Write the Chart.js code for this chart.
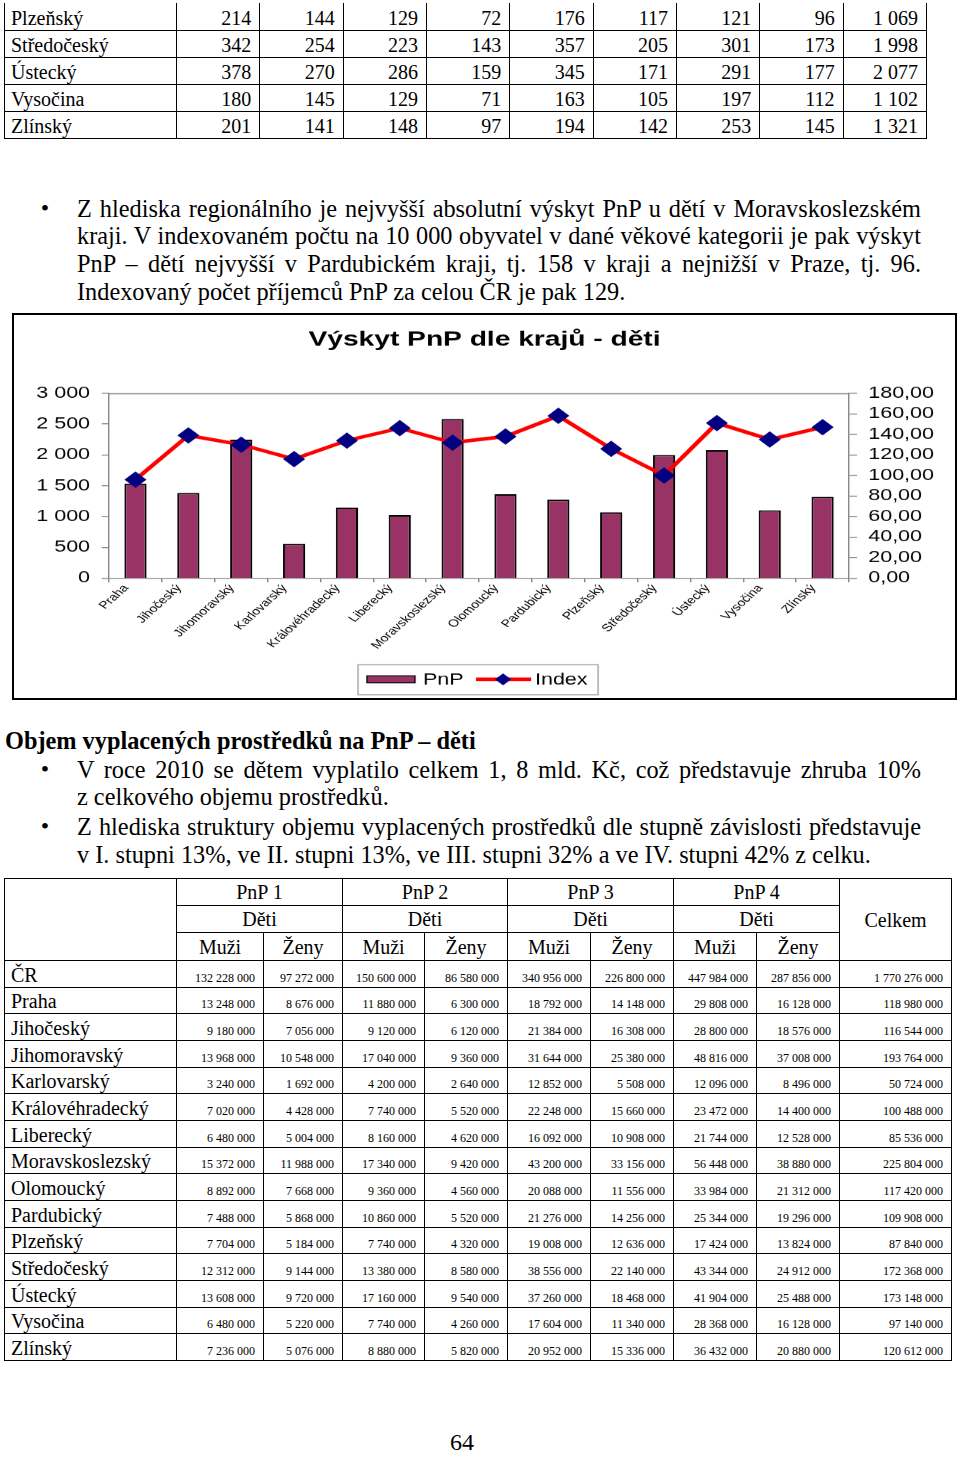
<!DOCTYPE html>
<html lang="cs">
<head>
<meta charset="utf-8">
<title>Výskyt PnP dle krajů - děti</title>
<script src="https://cdn.jsdelivr.net/npm/chart.js@4.4.1/dist/chart.umd.min.js"></script>
<style>
  body { margin: 0; width: 960px; height: 1461px; position: relative; background: #fff; color: #000;
         font-family: 'Liberation Serif', 'Times New Roman', serif; overflow: hidden; }
  .abs { position: absolute; }
  table { border-collapse: collapse; table-layout: fixed; }
  td { font-family: 'Liberation Serif', 'Times New Roman', serif; }
  #t1 tr { height: 27px; }
  #t1 td { border: 1px solid #000; font-size: 20px; line-height: 20px; padding: 0 0 2px 0;
           vertical-align: bottom; white-space: nowrap; }
  #t1 tr:first-child td { border-top: none; }
  #t1 td.name { padding-left: 6px; }
  #t1 td.num { text-align: right; padding-right: 8px; }
  #t2 td { border: 1px solid #000; white-space: nowrap; padding: 0; }
  #t2 td.hd { font-size: 20px; line-height: 20px; text-align: center; vertical-align: middle; }
  #t2 td.name { font-size: 20px; line-height: 20px; padding: 0 0 2px 6px; vertical-align: bottom; }
  #t2 td.num { font-size: 12px; line-height: 12px; padding: 0 8px 3px 0; text-align: right; vertical-align: bottom; }
  .para { left: 77px; width: 844px; font-size: 24.3px; }
  .para div { height: 27.6px; line-height: 27.6px; white-space: nowrap; text-align: justify; text-align-last: justify; }
  .para div.last { text-align-last: left; }
  .bul { left: 40.8px; font-size: 24px; line-height: 27.6px; }
  #h2 { left: 5px; top: 727.4px; font-size: 24.3px; line-height: 27.6px; font-weight: bold; white-space: nowrap; }
  #chartBox { left: 12px; top: 313px; width: 945px; height: 387px; border: 2px solid #000; box-sizing: border-box; overflow: hidden; }
  #wrap { position: absolute; left: 0; top: 0; width: 702px; height: 383px; transform: scaleX(1.3405); transform-origin: 0 0; }
  #pg { left: 440px; width: 44px; top: 1429px; font-size: 24px; line-height: 27.6px; text-align: center; }
</style>
</head>
<body>

<table id="t1" class="abs" style="left:4px; top:3px; width:922px;"></table>

<div class="abs bul" style="top:194.8px">•</div>
<div class="abs para" style="top:194.8px">
  <div>Z hlediska regionálního je nejvyšší absolutní výskyt PnP u dětí v Moravskoslezském</div>
  <div>kraji. V indexovaném počtu na 10 000 obyvatel v dané věkové kategorii je pak výskyt</div>
  <div>PnP – dětí nejvyšší v Pardubickém kraji, tj. 158 v kraji a nejnižší v Praze, tj. 96.</div>
  <div class="last">Indexovaný počet příjemců PnP za celou ČR je pak 129.</div>
</div>

<div id="chartBox" class="abs"><div id="wrap"><canvas id="pnpChart"></canvas></div></div>

<div id="h2" class="abs">Objem vyplacených prostředků na PnP – děti</div>
<div class="abs bul" style="top:755.8px">•</div>
<div class="abs para" style="top:755.8px">
  <div>V roce 2010 se dětem vyplatilo celkem 1, 8 mld. Kč, což představuje zhruba 10%</div>
  <div class="last">z celkového objemu prostředků.</div>
</div>
<div class="abs bul" style="top:813.1px">•</div>
<div class="abs para" style="top:813.1px">
  <div>Z hlediska struktury objemu vyplacených prostředků dle stupně závislosti představuje</div>
  <div class="last">v I. stupni 13%, ve II. stupni 13%, ve III. stupni 32% a ve IV. stupni 42% z celku.</div>
</div>

<table id="t2" class="abs" style="left:4px; top:878px; width:947px;"></table>

<div id="pg" class="abs">64</div>

<script>
// chart data
const regions = ['Praha', 'Jihočeský', 'Jihomoravský', 'Karlovarský', 'Královéhradecký', 'Liberecký',
  'Moravskoslezský', 'Olomoucký', 'Pardubický', 'Plzeňský', 'Středočeský', 'Ústecký', 'Vysočina', 'Zlínský'];
const pnpCounts = [1535, 1383, 2246, 559, 1145, 1025, 2582, 1362, 1275, 1069, 1998, 2077, 1102, 1321];
const indexValues = [96, 139, 130, 116, 134, 146, 132, 138, 158, 126, 100, 151, 135, 147];
const leftTicks = { min: 0, max: 3000, step: 500 };
const rightTicks = { min: 0, max: 180, step: 20 };

// table on top of the page (age groups)
const ageRegions = ['Plzeňský', 'Středočeský', 'Ústecký', 'Vysočina', 'Zlínský'];
const ageRows = [
  [214, 144, 129, 72, 176, 117, 121, 96, 1069],
  [342, 254, 223, 143, 357, 205, 301, 173, 1998],
  [378, 270, 286, 159, 345, 171, 291, 177, 2077],
  [180, 145, 129, 71, 163, 105, 197, 112, 1102],
  [201, 141, 148, 97, 194, 142, 253, 145, 1321]
];

// payments table
const payGroups = ['PnP 1', 'PnP 2', 'PnP 3', 'PnP 4'];
const payRegions = ['ČR', 'Praha', 'Jihočeský', 'Jihomoravský', 'Karlovarský', 'Královéhradecký', 'Liberecký',
  'Moravskoslezský', 'Olomoucký', 'Pardubický', 'Plzeňský', 'Středočeský', 'Ústecký', 'Vysočina', 'Zlínský'];
const payRows = [
  [132228000, 97272000, 150600000, 86580000, 340956000, 226800000, 447984000, 287856000, 1770276000],
  [13248000, 8676000, 11880000, 6300000, 18792000, 14148000, 29808000, 16128000, 118980000],
  [9180000, 7056000, 9120000, 6120000, 21384000, 16308000, 28800000, 18576000, 116544000],
  [13968000, 10548000, 17040000, 9360000, 31644000, 25380000, 48816000, 37008000, 193764000],
  [3240000, 1692000, 4200000, 2640000, 12852000, 5508000, 12096000, 8496000, 50724000],
  [7020000, 4428000, 7740000, 5520000, 22248000, 15660000, 23472000, 14400000, 100488000],
  [6480000, 5004000, 8160000, 4620000, 16092000, 10908000, 21744000, 12528000, 85536000],
  [15372000, 11988000, 17340000, 9420000, 43200000, 33156000, 56448000, 38880000, 225804000],
  [8892000, 7668000, 9360000, 4560000, 20088000, 11556000, 33984000, 21312000, 117420000],
  [7488000, 5868000, 10860000, 5520000, 21276000, 14256000, 25344000, 19296000, 109908000],
  [7704000, 5184000, 7740000, 4320000, 19008000, 12636000, 17424000, 13824000, 87840000],
  [12312000, 9144000, 13380000, 8580000, 38556000, 22140000, 43344000, 24912000, 172368000],
  [13608000, 9720000, 17160000, 9540000, 37260000, 18468000, 41904000, 25488000, 173148000],
  [6480000, 5220000, 7740000, 4260000, 17604000, 11340000, 28368000, 16128000, 97140000],
  [7236000, 5076000, 8880000, 5820000, 20952000, 15336000, 36432000, 20880000, 120612000]
];

const fmt = n => String(n).replace(/\B(?=(\d{3})+(?!\d))/g, '\u00a0');

// build tables
let h = '<colgroup><col style="width:172px">' + '<col style="width:83.33px">'.repeat(9) + '</colgroup>';
ageRows.forEach((r, i) => {
  h += '<tr><td class="name">' + ageRegions[i] + '</td>' + r.map(v => '<td class="num">' + fmt(v) + '</td>').join('') + '</tr>';
});
document.getElementById('t1').innerHTML = h;

const w2 = [172, 87, 79, 82, 83, 83, 83, 83, 83, 112];
h = '<colgroup>' + w2.map(w => '<col style="width:' + w + 'px">').join('') + '</colgroup>';
h += '<tr style="height:27px"><td rowspan="3"></td>' + payGroups.map(g => '<td class="hd" colspan="2">' + g + '</td>').join('') +
     '<td class="hd" rowspan="3">Celkem</td></tr>';
h += '<tr style="height:27px">' + payGroups.map(() => '<td class="hd" colspan="2">Děti</td>').join('') + '</tr>';
h += '<tr style="height:28px">' + payGroups.map(() => '<td class="hd">Muži</td><td class="hd">Ženy</td>').join('') + '</tr>';
payRows.forEach((r, i) => {
  h += '<tr style="height:26.67px"><td class="name">' + payRegions[i] + '</td>' + r.map(v => '<td class="num">' + fmt(v) + '</td>').join('') + '</tr>';
});
document.getElementById('t2').innerHTML = h;

// chart
Chart.defaults.font.family = "'Liberation Sans', Arial, sans-serif";
Chart.defaults.color = '#000';

const frameAndLegend = {
  id: 'frameAndLegend',
  beforeDatasetsDraw(c) {
    const { ctx, chartArea: a } = c;
    ctx.save();
    ctx.strokeStyle = '#808080';
    ctx.lineWidth = 1;
    ctx.beginPath();
    ctx.moveTo(a.left, a.top + 0.5);
    ctx.lineTo(a.right, a.top + 0.5);
    ctx.stroke();
    ctx.restore();
  },
  afterDraw(c) {
    const ctx = c.ctx;
    const line = c.data.datasets[0], bar = c.data.datasets[1];
    const x0 = 256.6, y0 = 349, cy = 364;
    ctx.save();
    ctx.strokeStyle = '#a0a0a0';
    ctx.lineWidth = 1;
    ctx.strokeRect(x0, y0 + 0.5, 179.1, 30);
    ctx.fillStyle = bar.backgroundColor;
    ctx.fillRect(x0 + 6.7, cy - 3.5, 35.8, 7);
    ctx.strokeStyle = '#000';
    ctx.strokeRect(x0 + 6.7, cy - 3.5, 35.8, 7);
    ctx.fillStyle = '#000';
    ctx.font = "16px 'Liberation Sans', Arial, sans-serif";
    ctx.textBaseline = 'middle';
    ctx.fillText(bar.label, x0 + 48.5, cy + 1);
    ctx.strokeStyle = line.borderColor;
    ctx.lineWidth = 3.5;
    ctx.beginPath();
    ctx.moveTo(x0 + 88, cy);
    ctx.lineTo(x0 + 129.1, cy);
    ctx.stroke();
    const dx = x0 + 108.2, r = 6;
    ctx.fillStyle = line.pointBackgroundColor;
    ctx.beginPath();
    ctx.moveTo(dx - r, cy); ctx.lineTo(dx, cy - r); ctx.lineTo(dx + r, cy); ctx.lineTo(dx, cy + r);
    ctx.closePath();
    ctx.fill();
    ctx.fillStyle = '#000';
    ctx.fillText(line.label, x0 + 132.1, cy + 1);
    ctx.restore();
  }
};

new Chart(document.getElementById('pnpChart'), {
  data: {
    labels: regions,
    datasets: [
      {
        type: 'line', label: 'Index', data: indexValues, yAxisID: 'y1', order: 0,
        borderColor: '#ff0000', borderWidth: 3.5, tension: 0,
        pointStyle: 'rectRot', pointRadius: 7.5, pointBackgroundColor: '#000080', pointBorderColor: '#000080', pointBorderWidth: 1
      },
      {
        type: 'bar', label: 'PnP', data: pnpCounts, yAxisID: 'y', order: 1,
        backgroundColor: '#993366', borderColor: '#000', borderWidth: 1.5,
        barPercentage: 0.42, categoryPercentage: 1
      }
    ]
  },
  options: {
    responsive: true,
    maintainAspectRatio: false,
    animation: false,
    devicePixelRatio: 1.3405,
    layout: { padding: 0 },
    plugins: {
      legend: { display: false },
      tooltip: { enabled: false },
      title: {
        display: true, text: 'Výskyt PnP dle krajů - děti', color: '#000',
        font: { size: 21, weight: 'bold' }, padding: { top: 12, bottom: 41 }
      }
    },
    scales: {
      x: {
        grid: { drawOnChartArea: false, tickLength: 4, color: '#808080', offset: true },
        border: { color: '#808080' },
        ticks: { autoSkip: false, minRotation: 50, maxRotation: 50, font: { size: 10.5 }, color: '#000', padding: 0, labelOffset: -7 },
        afterFit: s => { s.height = 120; }
      },
      y: {
        position: 'left', min: leftTicks.min, max: leftTicks.max,
        ticks: { autoSkip: false, stepSize: leftTicks.step, callback: v => fmt(v).replace('\u00a0', ' '), font: { size: 16 }, color: '#000', padding: 8.7 },
        grid: { drawOnChartArea: false, tickLength: 5.5, color: '#808080' },
        border: { color: '#808080' },
        afterFit: s => { s.width = 70.9; }
      },
      y1: {
        position: 'right', min: rightTicks.min, max: rightTicks.max,
        ticks: { autoSkip: false, stepSize: rightTicks.step, callback: v => v.toFixed(2).replace('.', ','), font: { size: 16 }, color: '#000', padding: 8.4 },
        grid: { drawOnChartArea: false, tickLength: 6, color: '#808080' },
        border: { color: '#808080' },
        afterFit: s => { s.width = 79.1; }
      }
    }
  },
  plugins: [frameAndLegend]
});
</script>
</body>
</html>
